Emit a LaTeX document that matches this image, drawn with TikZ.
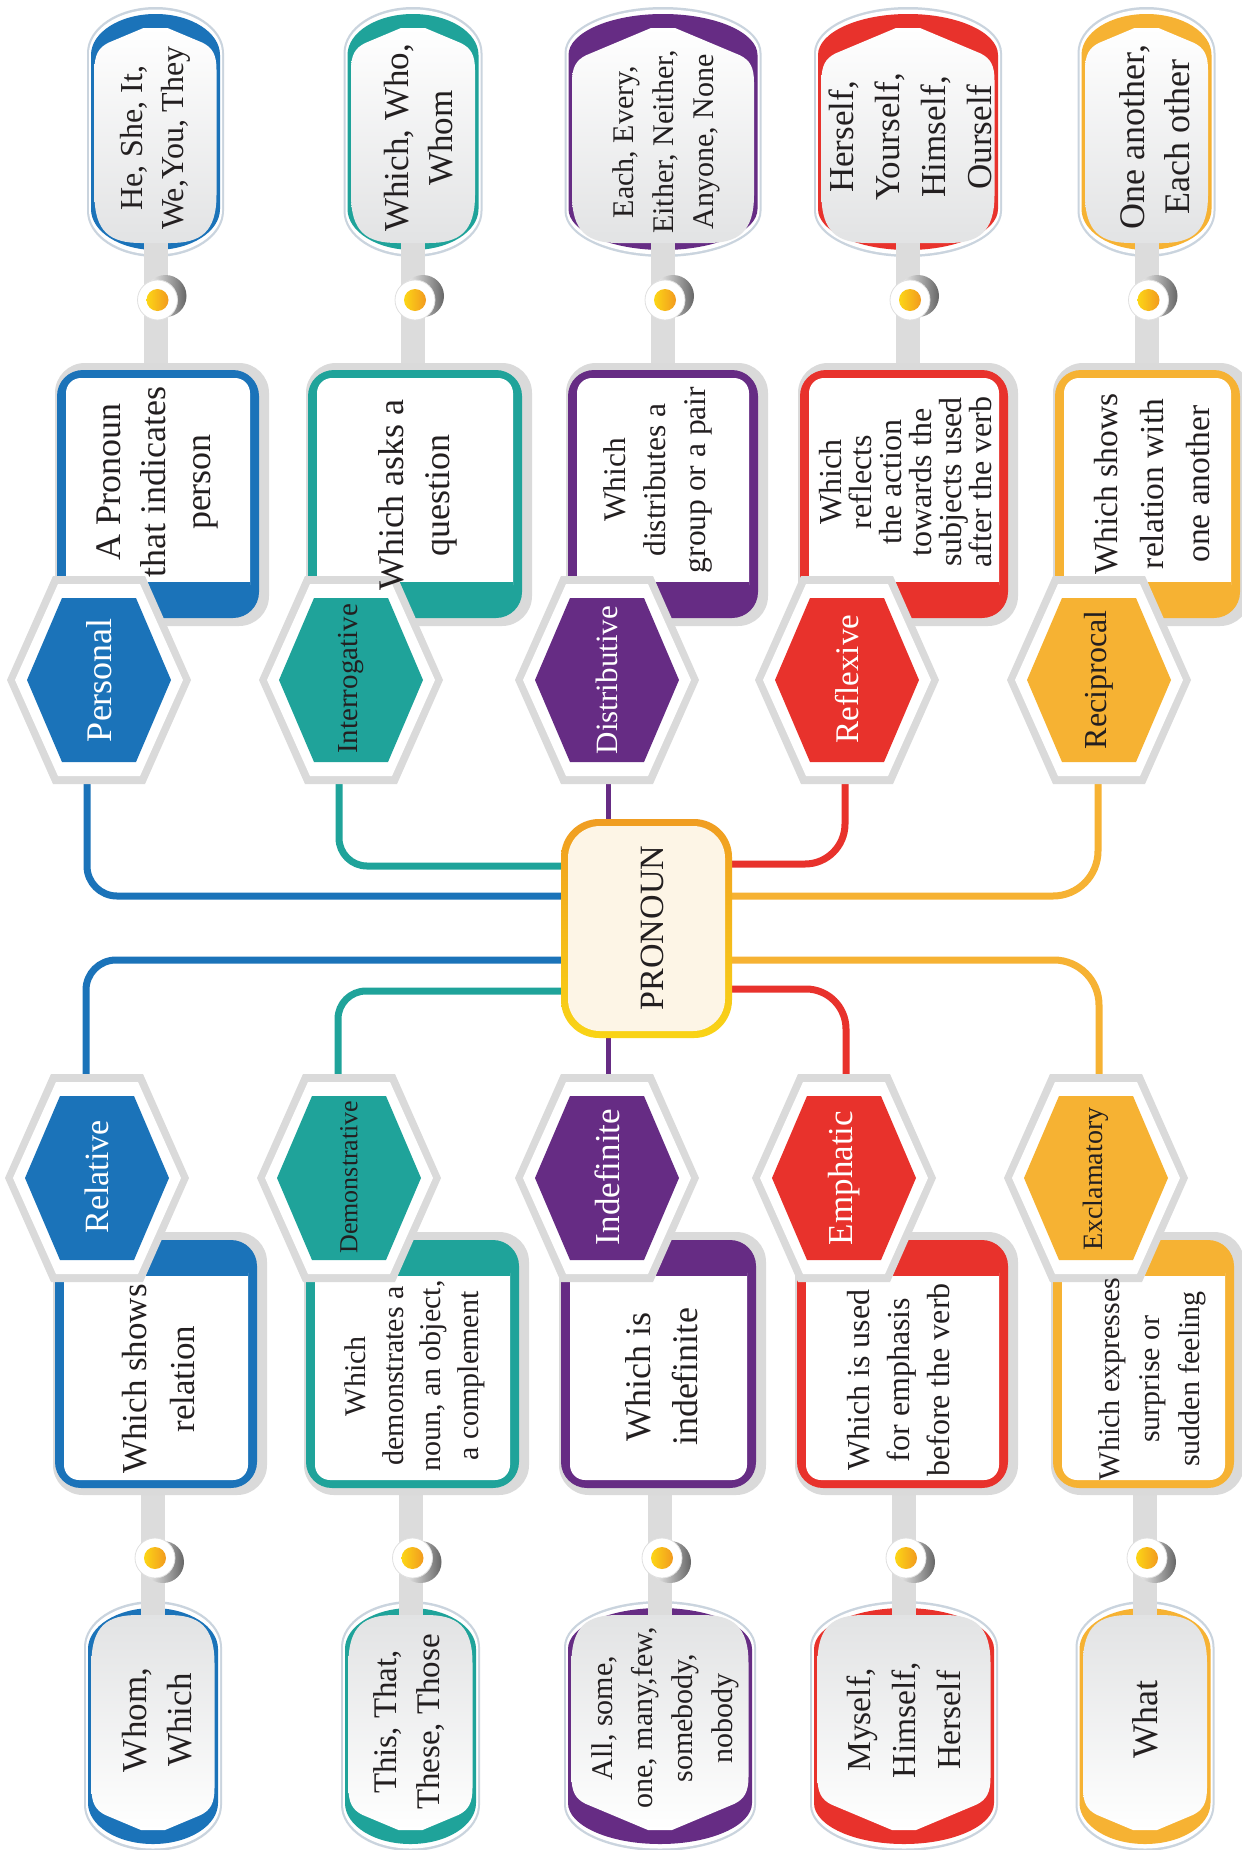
\documentclass[tikz,border=0pt]{standalone}
\usepackage{fontspec}
\setmainfont{Liberation Serif}
\usetikzlibrary{calc}
\definecolor{cblue}{HTML}{1B73B9}
\definecolor{cteal}{HTML}{1FA39A}
\definecolor{cpurple}{HTML}{662C84}
\definecolor{cred}{HTML}{E8322C}
\definecolor{corange}{HTML}{F6B233}
\definecolor{halo}{HTML}{DADADA}
\definecolor{rimc}{HTML}{CAD4DE}
\definecolor{stemc}{HTML}{DCDCDC}
\definecolor{txt}{HTML}{231F20}
\definecolor{cream}{HTML}{FDF5E6}
\definecolor{pbtop}{HTML}{F09D22}
\definecolor{pbbot}{HTML}{F9D416}
\definecolor{pinyl}{HTML}{FCD616}
\definecolor{pinor}{HTML}{F29A1F}
\definecolor{bubgray}{HTML}{E2E3E4}
\pgfdeclarelayer{bg}
\pgfsetlayers{bg,main}
\newcommand\fs[2]{\fontsize{#1pt}{#2pt}\selectfont}
\def\Yo{0}\def\D{1}\def\BT{white}\def\BB{bubgray}
\newcommand\Yc[1]{(\Yo+\D*(#1))}
% stadium-like shape with elliptic ends: cx, R, ytop, ybot, h, colour
\newcommand\Stad[6]{%
 \pgfmathsetmacro\sR{#2}\pgfmathsetmacro\sT{#3}\pgfmathsetmacro\sB{#4}\pgfmathsetmacro\sH{#5}%
 \fill[#6] ({#1-\sR},{\Yc{\sT+\sH}}) .. controls ({#1-\sR},{\Yc{\sT+0.448*\sH}}) and ({#1-0.552*\sR},{\Yc{\sT}}) .. ({#1},{\Yc{\sT}}) .. controls ({#1+0.552*\sR},{\Yc{\sT}}) and ({#1+\sR},{\Yc{\sT+0.448*\sH}}) .. ({#1+\sR},{\Yc{\sT+\sH}}) -- ({#1+\sR},{\Yc{\sB-\sH}}) .. controls ({#1+\sR},{\Yc{\sB-0.448*\sH}}) and ({#1+0.552*\sR},{\Yc{\sB}}) .. ({#1},{\Yc{\sB}}) .. controls ({#1-0.552*\sR},{\Yc{\sB}}) and ({#1-\sR},{\Yc{\sB-0.448*\sH}}) .. ({#1-\sR},{\Yc{\sB-\sH}}) -- cycle;
}
\newcommand\Bub[3]{%
 \Stad{#1}{#2+7.5}{7}{257}{46}{rimc}
 \Stad{#1}{#2+5.5}{9.5}{254.5}{44}{white}
 \Stad{#1}{#2+3.5}{14}{250}{41}{#3}
 \fill[stemc] ({#1-12},{\Yc{236}}) rectangle ({#1+12},{\Yc{372}});
 \shade[top color=\BT, bottom color=\BB] ({#1-12},{\Yc{28}}) -- ({#1+12},{\Yc{28}}) -- ({#1+#2-14},{\Yc{28+0.42*(#2-26)}}) .. controls ({#1+#2-4},{\Yc{33+0.42*(#2-26)}}) and ({#1+#2},{\Yc{40+0.42*(#2-26)}}) .. ({#1+#2},{\Yc{55+0.42*(#2-26)}}) -- ({#1+#2},{\Yc{195}}) .. controls ({#1+#2},{\Yc{232}}) and ({#1+#2-16},{\Yc{243}}) .. ({#1+#2-46},{\Yc{243}}) -- ({#1-#2+46},{\Yc{243}}) .. controls ({#1-#2+16},{\Yc{243}}) and ({#1-#2},{\Yc{232}}) .. ({#1-#2},{\Yc{195}}) -- ({#1-#2},{\Yc{55+0.42*(#2-26)}}) .. controls ({#1-#2},{\Yc{40+0.42*(#2-26)}}) and ({#1-#2+4},{\Yc{33+0.42*(#2-26)}}) .. ({#1-#2+14},{\Yc{28+0.42*(#2-26)}}) -- cycle;
}
\newcommand\Pin[1]{%
 \shade[left color=white, right color=black!60] ({#1+10},{\Yc{296}}) circle (21pt);
 \fill[white] ({#1+2},{\Yc{300}}) circle (20pt);
 \draw[black!12, line width=0.8pt] ({#1+2},{\Yc{300}}) circle (20pt);
 \shade[left color=pinyl, right color=pinor] ({#1+2},{\Yc{300}}) circle (11pt);
}
\newcommand\DBox[3]{%
 \fill[halo, rounded corners=30pt] ({#1-2},{\Yc{363}}) rectangle ({#2+10},{\Yc{626}});
 \fill[#3, rounded corners=26pt] ({#1},{\Yc{370}}) rectangle ({#2},{\Yc{618}});
 \fill[white, rounded corners=15pt] ({#1+9},{\Yc{378}}) rectangle ({#2-9},{\Yc{600}});
 \fill[#3] ({#1+9},{\Yc{582}}) rectangle ({#2-9},{\Yc{606}});
}
\newcommand\Hex[2]{%
 \fill[halo] ({#1-92},{\Yc{680}}) -- ({#1-46},{\Yc{576}}) -- ({#1+46},{\Yc{576}}) -- ({#1+92},{\Yc{680}}) -- ({#1+46},{\Yc{784}}) -- ({#1-46},{\Yc{784}}) -- cycle;
 \fill[white] ({#1-84},{\Yc{680}}) -- ({#1-41},{\Yc{584}}) -- ({#1+41},{\Yc{584}}) -- ({#1+84},{\Yc{680}}) -- ({#1+41},{\Yc{776}}) -- ({#1-41},{\Yc{776}}) -- cycle;
 \fill[#2] ({#1-72},{\Yc{680}}) -- ({#1-37},{\Yc{598}}) -- ({#1+37},{\Yc{598}}) -- ({#1+72},{\Yc{680}}) -- ({#1+37},{\Yc{762}}) -- ({#1-37},{\Yc{762}}) -- cycle;
}
\tikzset{
 lbl/.style={rotate=90, align=center, text=txt, inner sep=0pt},
 hexw/.style={rotate=90, text=white, inner sep=0pt},
 hexd/.style={rotate=90, text=txt, inner sep=0pt},
 conn/.style={line width=7pt},
 thinconn/.style={line width=5pt, cpurple},
 pronbox/.style={minimum width=171pt, minimum height=219pt, rounded corners=38pt, top color=pbtop, bottom color=pbbot, inner sep=0pt},
 pronin/.style={minimum width=157pt, minimum height=205pt, rounded corners=32pt, fill=cream, inner sep=0pt}
}
\begin{document}
\begin{tikzpicture}[x=1pt, y=-1pt]
\begin{pgfonlayer}{bg}
\fill[white] (0,0) rectangle (1242,1850);
\end{pgfonlayer}
\useasboundingbox (0,0) rectangle (1242,1850);
% ---------- top half ----------
\def\Yo{0}\def\D{1}\def\BT{white}\def\BB{bubgray}
\Bub{155.5}{61}{cblue}\Bub{413}{62}{cteal}\Bub{663}{91}{cpurple}\Bub{908}{86.5}{cred}\Bub{1146.5}{61.5}{corange}
\Pin{155.5}\Pin{413}\Pin{663}\Pin{908}\Pin{1146.5}
\DBox{57}{259}{cblue}\DBox{308}{522}{cteal}\DBox{568}{758}{cpurple}\DBox{800}{1008}{cred}\DBox{1055}{1240}{corange}
\Hex{99}{cblue}\Hex{351}{cteal}\Hex{607}{cpurple}\Hex{847}{cred}\Hex{1099}{corange}
% ---------- bottom half ----------
\def\Yo{1858}\def\D{(-1)}\def\BT{bubgray}\def\BB{white}
\Bub{153}{61.5}{cblue}\Bub{410.5}{62}{cteal}\Bub{660}{88.5}{cpurple}\Bub{904}{86.5}{cred}\Bub{1145}{62}{corange}
\Pin{153}\Pin{410.5}\Pin{660}\Pin{904}\Pin{1145}
\DBox{55}{257}{cblue}\DBox{306}{519}{cteal}\DBox{561}{756}{cpurple}\DBox{797}{1008}{cred}\DBox{1053}{1234}{corange}
\Hex{97}{cblue}\Hex{349}{cteal}\Hex{607}{cpurple}\Hex{844}{cred}\Hex{1096}{corange}
% ---------- centre ----------
\node[pronbox] (pron) at (646.5,928.5) {};
\node[pronin] (pronin) at (pron.center) {};
\node[rotate=90, text=txt, inner sep=0pt, font=\fs{34}{34}] (prontext) at (652,928) {PRONOUN};
% ---------- top texts ----------
\node[lbl, font=\fs{32}{41}] (tb1) at (155,138) {He, She, It,\\We,You, They};
\node[lbl, font=\fs{35}{44}] (tb2) at (419,138) {Which, Who,\\Whom};
\node[lbl, font=\fs{30}{40}] (tb3) at (666,142) {Each, Every,\\Either, Neither,\\Anyone, None};
\node[lbl, font=\fs{35}{46}] (tb4) at (910,137) {Herself,\\Yourself,\\Himself,\\Ourself};
\node[lbl, font=\fs{36}{45}] (tb5) at (1155,137) {One another,\\Each other};
\node[lbl, font=\fs{36}{45}] (td1) at (157,482) {A Pronoun\\that indicates\\person};
\node[lbl, font=\fs{36}{46}] (td2) at (418,495) {Which asks a\\question};
\node[lbl, font=\fs{31.5}{40}] (td3) at (658,480) {Which\\distributes a\\group or a pair};
\node[lbl, font=\fs{32}{30}] (td4) at (906,482) {Which\\reflects\\the action\\towards the\\subjects used\\after the verb};
\node[lbl, font=\fs{33.5}{46}] (td5) at (1152,484) {Which shows\\relation with\\one another};
\node[hexw, font=\fs{36}{36}] (personal) at (99,680) {Personal};
\node[hexd, font=\fs{29}{29}] (interrogative) at (351,679) {Interrogative};
\node[hexw, font=\fs{31}{31}] (distributive) at (607,680) {Distributive};
\node[hexw, font=\fs{33}{33}] (reflexive) at (847,679) {Reflexive};
\node[hexd, font=\fs{32}{32}] (reciprocal) at (1099,680) {Reciprocal};
% ---------- bottom texts ----------
\node[hexw, font=\fs{34}{34}] (relative) at (97,1177) {Relative};
\node[hexd, font=\fs{26}{26}] (demonstrative) at (349,1177) {Demonstrative};
\node[hexw, font=\fs{35}{35}] (indefinite) at (607,1177) {Indefinite};
\node[hexw, font=\fs{35}{35}] (emphatic) at (844,1178) {Emphatic};
\node[hexd, font=\fs{28}{28}] (exclamatory) at (1096,1179) {Exclamatory};
\node[lbl, font=\fs{35}{48}] (bd1) at (159,1379) {Which shows\\relation};
\node[lbl, font=\fs{30}{37.5}] (bd2) at (415,1376) {Which\\demonstrates a\\noun, an object,\\a complement};
\node[lbl, font=\fs{36}{47}] (bd3) at (662,1377) {Which is\\indefinite};
\node[lbl, font=\fs{32}{40}] (bd4) at (899,1380) {Which is used\\for emphasis\\before the verb};
\node[lbl, font=\fs{30}{40}] (bd5) at (1152,1379) {Which expresses\\surprise or\\sudden feeling};
\node[lbl, font=\fs{35}{45}] (bb1) at (157,1720) {Whom,\\Which};
\node[lbl, font=\fs{33}{43}] (bb2) at (409,1722) {This, That,\\These, Those};
\node[lbl, font=\fs{30}{40}] (bb3) at (665,1718) {All, some,\\one, many,few,\\somebody,\\nobody};
\node[lbl, font=\fs{33.5}{45}] (bb4) at (904,1720) {Myself,\\Himself,\\Herself};
\node[lbl, font=\fs{36}{36}] (bb5) at (1145,1719) {What};
% ---------- connectors ----------
\begin{pgfonlayer}{bg}
\draw[conn, cblue, rounded corners=30pt] ([xshift=-12pt]personal.center) |- ([xshift=6pt,yshift=32.5pt]pron.west);
\draw[conn, cteal, rounded corners=28pt] ([xshift=-12pt]interrogative.center) |- ([xshift=6pt,yshift=62.5pt]pron.west);
\draw[thinconn] ([xshift=1pt]distributive.center) -- ([xshift=1pt,yshift=-8pt]distributive.center |- pron.north);
\draw[conn, cred, rounded corners=40pt] ([xshift=-2pt]reflexive.center) |- ([xshift=-6pt,yshift=64.5pt]pron.east);
\draw[conn, corange, rounded corners=45pt] ([xshift=-1pt]reciprocal.center) |- ([xshift=-6pt,yshift=32.5pt]pron.east);
\draw[conn, cblue, rounded corners=30pt] ([xshift=-11pt]relative.center) |- ([xshift=6pt,yshift=-31.5pt]pron.west);
\draw[conn, cteal, rounded corners=28pt] ([xshift=-11pt]demonstrative.center) |- ([xshift=6pt,yshift=-62.5pt]pron.west);
\draw[thinconn] ([xshift=1pt]indefinite.center) -- ([xshift=1pt,yshift=8pt]indefinite.center |- pron.south);
\draw[conn, cred, rounded corners=40pt] ([xshift=2pt]emphatic.center) |- ([xshift=-6pt,yshift=-60.5pt]pron.east);
\draw[conn, corange, rounded corners=45pt] ([xshift=3pt]exclamatory.center) |- ([xshift=-6pt,yshift=-31.5pt]pron.east);
\end{pgfonlayer}
\end{tikzpicture}
\end{document}
